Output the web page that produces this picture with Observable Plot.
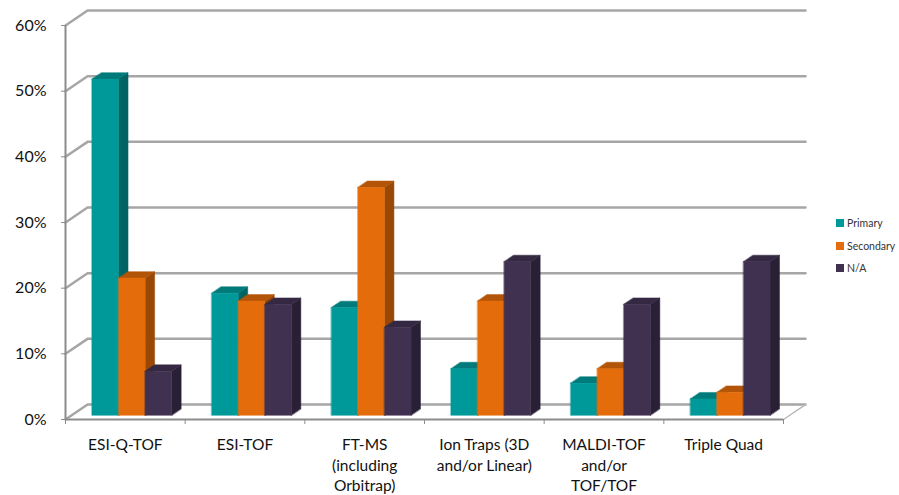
<!DOCTYPE html>
<html><head><meta charset="utf-8">
<script src="https://cdn.jsdelivr.net/npm/d3@7"></script>
<script src="https://cdn.jsdelivr.net/npm/@observablehq/plot@0.6"></script>
<style>
body{margin:0;background:#fff;}
#chart{position:relative;width:899px;height:495px;font-family:Lato,sans-serif;}
#legend{position:absolute;left:836px;top:212px;font-size:10.5px;color:#333;}
.item{display:flex;align-items:center;height:22.5px;}
.sw{width:8px;height:8px;margin-right:3px;}
</style></head><body><div id="chart"></div>
<script>
const categories = ["ESI-Q-TOF", "ESI-TOF", "FT-MS\n(including\nOrbitrap)", "Ion Traps (3D\nand/or Linear)", "MALDI-TOF\nand/or\nTOF/TOF", "Triple Quad"];
const seriesNames = ["Primary", "Secondary", "N/A"];
const primary   = [51.2, 18.6, 16.4, 7.1, 4.9, 2.5];
const secondary = [20.9, 17.4, 34.7, 17.4, 7.1, 3.5];
const na        = [6.7, 16.9, 13.4, 23.4, 16.9, 23.4];
const yTicks = [0, 10, 20, 30, 40, 50, 60];
const frontColors = ["#009999", "#e46c0a", "#403151"];
const topColors   = ["#007a7a", "#b35508", "#342842"];
const sideColors  = ["#006464", "#9a4806", "#2a2036"];

const values = [primary, secondary, na];
// oblique projection: depth d in [0,1] shifts right/up
const KX = 0.184, KY = 2.28, D0 = 0.28, D1 = 0.71, OFF = 0.17, BW = 0.222;
const proj = (x, y, d) => ({x: x + d * KX, y: y + d * KY});

const faces = [];
values.forEach((vals, s) => {
  vals.forEach((h, i) => {
    const x1 = i + OFF + s * BW, x2 = x1 + BW;
    const add = (face, pts) => pts.forEach(([x, y, d]) => faces.push({s, face, key: face + i, ...proj(x, y, d)}));
    add("side", [[x2, 0, D0], [x2, h, D0], [x2, h, D1], [x2, 0, D1]]);
    add("top", [[x1, h, D0], [x2, h, D0], [x2, h, D1], [x1, h, D1]]);
    add("front", [[x1, 0, D0], [x2, 0, D0], [x2, h, D0], [x1, h, D0]]);
  });
});

const grid = yTicks.flatMap(t => [proj(0, t, 0), proj(0, t, 1), proj(6, t, 1)].map(p => ({t, ...p})));
const floorEdge = [proj(6, 0, 0), proj(6, 0, 1)];

const barMarks = [];
[0, 1, 2].forEach(s => {
  [["side", sideColors], ["top", topColors], ["front", frontColors]].forEach(([face, cols]) => {
    barMarks.push(Plot.line(faces.filter(f => f.s === s && f.face === face), {
      x: "x", y: "y", z: "key", curve: "linear-closed",
      fill: cols[s], stroke: cols[s], strokeWidth: 0.5
    }));
  });
});

const chart = Plot.plot({
  width: 899, height: 495,
  marginLeft: 65, marginRight: 116, marginTop: 25, marginBottom: 76,
  x: {domain: [0, 6], label: null},
  y: {domain: [0, 60], label: null},
  style: {fontFamily: "Lato, sans-serif", background: "white", color: "#111"},
  marks: [
    Plot.line(grid, {x: "x", y: "y", z: "t", stroke: "#a6a6a6", strokeWidth: 2.5}),
    Plot.line(floorEdge, {x: "x", y: "y", stroke: "#b8b8b8", strokeWidth: 1.5}),
    ...barMarks,
    Plot.ruleX([0], {y1: 0, y2: 60, stroke: "#8c8c8c", strokeWidth: 2}),
    Plot.ruleY([0], {x1: 0, x2: 6, stroke: "#8c8c8c", strokeWidth: 2}),
    Plot.axisY({ticks: yTicks, tickFormat: d => d + "%", tickSize: 4, tickPadding: 15, fontSize: 16, stroke: "#8c8c8c", fill: "#111", label: null}),
    Plot.axisX({ticks: d3.range(7), tickSize: 5, stroke: "#8c8c8c", fill: "none", label: null}),
    Plot.text(categories, {x: (d, i) => i + 0.5, y: 0, text: d => d, dy: 16, lineAnchor: "top", lineHeight: 1.33, fontSize: 15.5, fill: "#111"})
  ]
});
const root = document.getElementById("chart");
root.appendChild(chart);
const legend = document.createElement("div");
legend.id = "legend";
seriesNames.forEach((n, s) => {
  const it = document.createElement("div");
  it.className = "item";
  it.innerHTML = `<span class="sw" style="background:${frontColors[s]}"></span><span>${n}</span>`;
  legend.appendChild(it);
});
root.appendChild(legend);
</script></body></html>
